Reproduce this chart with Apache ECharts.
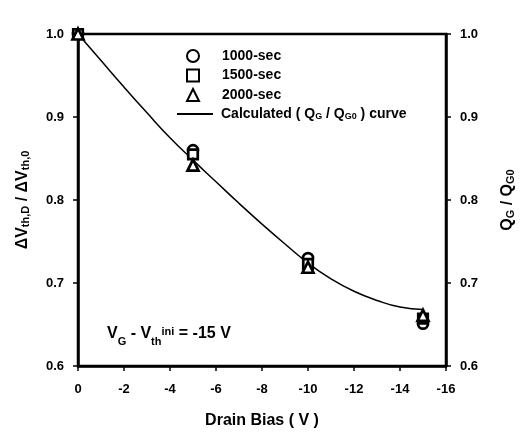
<!DOCTYPE html>
<html>
<head>
<meta charset="utf-8">
<script src="https://cdn.jsdelivr.net/npm/echarts@6/dist/echarts.min.js"></script>
<style>
  html, body { margin: 0; padding: 0; background: #fff; }
  #chart { width: 523px; height: 432px; }
</style>
</head>
<body>
<div id="chart"></div>
<script>
// measured points (drain bias in V)
const biasX = [0, -5, -10, -15];
const v1000 = [1.0, 0.860, 0.730, 0.651];
const v1500 = [1.0, 0.855, 0.723, 0.657];
const v2000 = [1.0, 0.842, 0.719, 0.661];

// calculated QG / QG0 curve
const curveX = [0, -1, -2, -3, -4, -5, -6, -7, -8, -9, -10, -11, -12, -13, -14, -15];
const curveY = [1.000, 0.968, 0.936, 0.905, 0.875, 0.848, 0.822, 0.796, 0.771, 0.747, 0.724, 0.705, 0.690, 0.679, 0.671, 0.668];

const FONT = "'Liberation Sans', Arial, sans-serif";

const pairs = (xs, ys) => xs.map((x, i) => [x, ys[i]]);

const markerStyle = { color: "#fff", borderColor: "#000", borderWidth: 2.7, opacity: 1 };

const axisCommon = {
  axisLine: { show: true, lineStyle: { color: "#000", width: 2.5 } },
  axisTick: { show: true, length: 5, lineStyle: { color: "#000", width: 1.5 } },
  splitLine: { show: false }
};

const subRich = {
  b: { fontSize: 16, fontWeight: "bold", fontFamily: FONT, color: "#000", lineHeight: 16, verticalAlign: "top" },
  s: { fontSize: 11, fontWeight: "bold", fontFamily: FONT, color: "#000", lineHeight: 11, verticalAlign: "bottom", padding: [9, 0, 0, 0] }
};

const legendText = { fontSize: 14, fontWeight: "bold", fontFamily: FONT, color: "#000", lineHeight: 16 };

const chart = echarts.init(document.getElementById("chart"));
chart.setOption({
  backgroundColor: "#fff",
  animation: false,
  grid: {
    left: 78, right: 77, top: 34, bottom: 66,
    outerBoundsMode: "none",
    containLabel: false,
    show: true, borderColor: "#000", borderWidth: 2.5
  },
  legend: [
    {
      orient: "vertical",
      left: 181,
      top: 43,
      itemWidth: 12,
      itemHeight: 12,
      itemGap: 3.5,
      selectedMode: false,
      textStyle: { ...legendText, padding: [0, 0, 0, 18] },
      data: ["1000-sec", "1500-sec", "2000-sec"]
    },
    {
      orient: "vertical",
      left: 172,
      top: 99,
      itemWidth: 36,
      itemHeight: 2,
      selectedMode: false,
      textStyle: {
        ...legendText,
        padding: [0, 0, 0, 3],
        rich: {
          b: { fontSize: 14, fontWeight: "bold", fontFamily: FONT, color: "#000", lineHeight: 14, verticalAlign: "top" },
          s: { fontSize: 9, fontWeight: "bold", fontFamily: FONT, color: "#000", lineHeight: 9, verticalAlign: "bottom", padding: [8, 0, 0, 0] }
        }
      },
      formatter: () => "{b|Calculated ( Q}{s|G}{b| / Q}{s|G0}{b| ) curve}",
      data: [{ name: "curve", icon: "rect", itemStyle: { color: "#000", borderWidth: 0 } }]
    }
  ],
  xAxis: {
    type: "value",
    min: -16,
    max: 0,
    interval: 2,
    inverse: true,
    ...axisCommon,
    axisLabel: { margin: 17, fontSize: 13, fontWeight: "bold", fontFamily: FONT, color: "#000" },
    name: "Drain Bias ( V )",
    nameLocation: "middle",
    nameGap: 47,
    nameTextStyle: { fontSize: 16, fontWeight: "bold", fontFamily: FONT, color: "#000" }
  },
  yAxis: [
    {
      type: "value",
      position: "left",
      min: 0.6,
      max: 1.0,
      interval: 0.1,
      ...axisCommon,
      axisLabel: { margin: 14, fontSize: 13, fontWeight: "bold", fontFamily: FONT, color: "#000", formatter: (v) => v.toFixed(1) },
      name: "{b|ΔV}{s|th,D}{b| / ΔV}{s|th,0}",
      nameLocation: "middle",
      nameRotate: 90,
      nameGap: 47,
      nameTextStyle: { rich: subRich }
    },
    {
      type: "value",
      position: "right",
      min: 0.6,
      max: 1.0,
      interval: 0.1,
      ...axisCommon,
      axisLabel: { margin: 14, fontSize: 13, fontWeight: "bold", fontFamily: FONT, color: "#000", formatter: (v) => v.toFixed(1) },
      name: "{b|Q}{s|G}{b| / Q}{s|G0}",
      nameLocation: "middle",
      nameRotate: 90,
      nameGap: 54,
      nameTextStyle: { rich: subRich }
    }
  ],
  graphic: [
    {
      type: "text",
      left: 107,
      top: 319,
      style: {
        text: "{b|V}{s|G}{b| - V}{s|th}{u|ini}{b| = -15 V}",
        rich: {
          b: { fontSize: 16, fontWeight: "bold", fontFamily: FONT, color: "#000", lineHeight: 16, verticalAlign: "bottom", padding: [7, 0, 0, 0] },
          s: { fontSize: 11, fontWeight: "bold", fontFamily: FONT, color: "#000", lineHeight: 11, verticalAlign: "bottom", padding: [0, 0, -5, 0] },
          u: { fontSize: 11, fontWeight: "bold", fontFamily: FONT, color: "#000", lineHeight: 11, verticalAlign: "top" }
        }
      }
    }
  ],
  series: [
    {
      name: "curve",
      type: "line",
      smooth: true,
      symbol: "none",
      lineStyle: { color: "#000", width: 1.5 },
      itemStyle: { color: "#000" },
      data: pairs(curveX, curveY),
      z: 1
    },
    {
      name: "1000-sec",
      type: "scatter",
      symbol: "circle",
      symbolSize: 10,
      itemStyle: markerStyle,
      data: pairs(biasX, v1000),
      z: 2
    },
    {
      name: "1500-sec",
      type: "scatter",
      symbol: "rect",
      symbolSize: 9.5,
      itemStyle: markerStyle,
      data: pairs(biasX, v1500),
      z: 3
    },
    {
      name: "2000-sec",
      type: "scatter",
      symbol: "triangle",
      symbolSize: 11,
      itemStyle: markerStyle,
      data: pairs(biasX, v2000),
      z: 4
    }
  ]
});
</script>
</body>
</html>
